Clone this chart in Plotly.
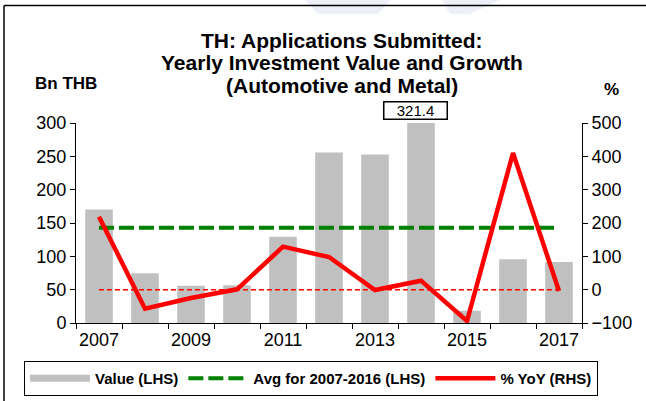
import plotly.graph_objects as go
from plotly.subplots import make_subplots

# Data
YEARS = [2007, 2008, 2009, 2010, 2011, 2012, 2013, 2014, 2015, 2016, 2017]
VALUE_BN_THB = [170.4, 74.7, 55.7, 56.5, 129.4, 255.6, 252.6, 321.4, 18.4, 95.7, 91.6]
YOY_PCT = [219, -57, -25, 1, 129, 98, -1, 27, -94, 410, -4]
AVG_2007_2016 = 143.0
LABEL_YEAR = 2014
LABEL_TEXT = "321.4"
X_TICKS = [2007, 2009, 2011, 2013, 2015, 2017]
TITLE_LINES = [
    "TH: Applications Submitted:",
    "Yearly Investment Value and Growth",
    "(Automotive and Metal)",
]

FONT = "Arial, Liberation Sans, sans-serif"

# plot area in pixels (used to place paper-coordinate decorations)
W, H = 646, 401
L, R, T, B = 76, 64, 123, 78
PW, PH = W - L - R, H - T - B


def px_x(px):
    return (px - L) / PW


def px_y(py):
    return (H - B - py) / PH


fig = make_subplots(specs=[[{"secondary_y": True}]])

fig.add_trace(go.Bar(
    x=YEARS, y=VALUE_BN_THB, width=0.6,
    marker=dict(color="#C0C0C0", line=dict(width=0)),
    name="Value (LHS)", showlegend=False,
), secondary_y=False)

# legend swatch for the bars (flat grey bar as in the reference)
fig.add_trace(go.Scatter(
    x=[None], y=[None], mode="lines",
    line=dict(color="#C0C0C0", width=7),
    name="Value (LHS)",
), secondary_y=False)

fig.add_trace(go.Scatter(
    x=YEARS, y=[AVG_2007_2016] * len(YEARS), mode="lines",
    line=dict(color="#008000", width=4, dash="15px,5px"),
    name="Avg for 2007-2016 (LHS)",
), secondary_y=False)

fig.add_trace(go.Scatter(
    x=YEARS, y=[0] * len(YEARS), mode="lines",
    line=dict(color="#FF0000", width=1.5, dash="5px,3px"),
    showlegend=False,
), secondary_y=True)

fig.add_trace(go.Scatter(
    x=YEARS, y=YOY_PCT, mode="lines",
    line=dict(color="#FF0000", width=4.5),
    name="% YoY (RHS)",
), secondary_y=True)

annotations = [
    dict(text=line, xref="paper", yref="paper", x=px_x(342), y=px_y(py),
         xanchor="center", yanchor="middle", showarrow=False,
         font=dict(size=21, weight="bold"))
    for line, py in zip(TITLE_LINES, [40, 62.5, 85])
]
annotations += [
    dict(text="Bn THB", xref="paper", yref="paper", x=px_x(66), y=px_y(83),
         xanchor="center", yanchor="middle", showarrow=False, font=dict(size=17, weight="bold")),
    dict(text="%", xref="paper", yref="paper", x=px_x(611), y=px_y(89),
         xanchor="center", yanchor="middle", showarrow=False, font=dict(size=17, weight="bold")),
    dict(text=LABEL_TEXT, xref="x", yref="paper", x=LABEL_YEAR, xshift=-6, y=px_y(110.5),
         xanchor="center", yanchor="middle", showarrow=False, font=dict(size=15),
         bordercolor="black", borderwidth=1.5, bgcolor="white", width=60, height=14),
]

fig.update_layout(
    width=W, height=H,
    margin=dict(l=L, r=R, t=T, b=B, autoexpand=False),
    paper_bgcolor="white", plot_bgcolor="white",
    font=dict(family=FONT, size=18, color="black"),
    legend=dict(
        orientation="h", x=px_x(24), y=px_y(361), xanchor="left", yanchor="top",
        bordercolor="black", borderwidth=1, itemwidth=60,
        font=dict(family=FONT, size=15, weight="bold"),
        traceorder="normal",
    ),
    annotations=annotations,
    shapes=[
        # faint watermark at the top edge
        dict(type="path", xref="paper", yref="paper", layer="below",
             path=f"M {px_x(305)},{px_y(0)} L {px_x(390)},{px_y(0)} L {px_x(378)},{px_y(14)} L {px_x(318)},{px_y(14)} Z",
             fillcolor="#EEF0F8", line=dict(width=0)),
        dict(type="path", xref="paper", yref="paper", layer="below",
             path=f"M {px_x(442)},{px_y(0)} L {px_x(500)},{px_y(0)} L {px_x(470)},{px_y(14)} L {px_x(450)},{px_y(14)} Z",
             fillcolor="#EEF0F8", line=dict(width=0)),
        # outer frame (top and left edges)
        dict(type="line", xref="paper", yref="paper", x0=px_x(4), x1=px_x(4), y0=px_y(5.5), y1=px_y(401),
             line=dict(color="black", width=1.5)),
        dict(type="line", xref="paper", yref="paper", x0=px_x(4), x1=px_x(646), y0=px_y(5.5), y1=px_y(5.5),
             line=dict(color="black", width=1.5)),
    ],
)

# make_subplots shrinks the x domain for the secondary axis; use the full width
fig.update_xaxes(
    domain=[0, 1],
    range=[2006.5, 2017.5], tickvals=X_TICKS, ticks="",
    showline=True, linecolor="black", linewidth=1, showgrid=False, zeroline=False,
    minor=dict(tickvals=[y - 0.5 for y in YEARS] + [YEARS[-1] + 0.5],
               ticks="outside", ticklen=5, tickcolor="black", showgrid=False),
)
fig.update_yaxes(
    range=[0, 300], dtick=50, ticks="outside", ticklen=5, tickcolor="black",
    showline=True, linecolor="black", linewidth=1, showgrid=False, zeroline=False,
    secondary_y=False,
)
fig.update_yaxes(
    range=[-100, 500], dtick=100, ticks="outside", ticklen=5, tickcolor="black",
    showline=True, linecolor="black", linewidth=1, showgrid=False, zeroline=False,
    secondary_y=True,
)

# the page body has a default 8px margin; drop it so the figure sits at (0, 0)
fig.write_html(
    "out.html",
    config={"displayModeBar": False},
    post_script="document.body.style.margin='0';",
)
